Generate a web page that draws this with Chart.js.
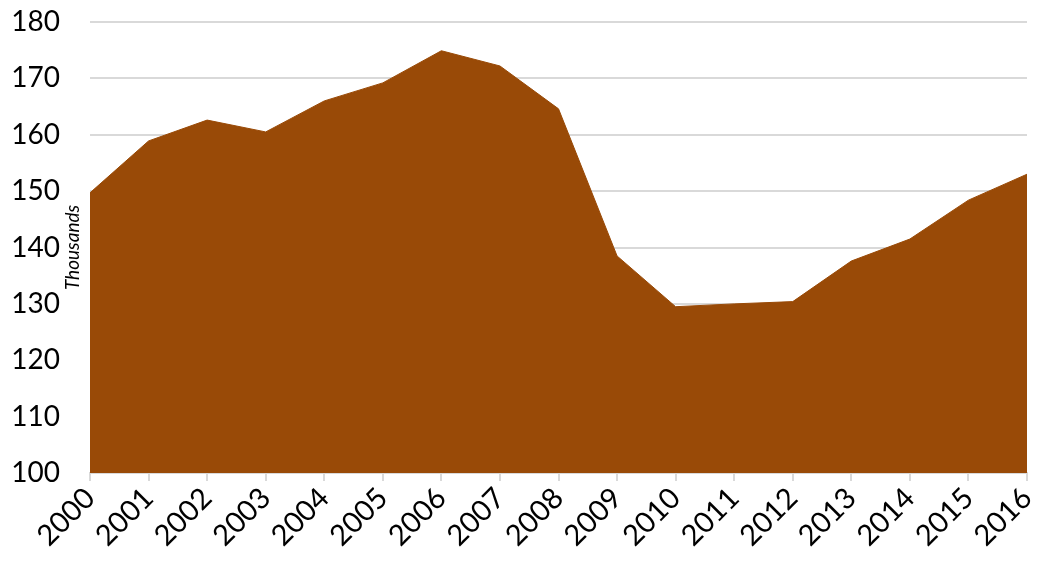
<!DOCTYPE html>
<html>
<head>
<meta charset="utf-8">
<script src="https://cdn.jsdelivr.net/npm/chart.js@4.4.1/dist/chart.umd.min.js"></script>
<style>
  html, body { margin: 0; padding: 0; background: #fff; }
  #wrap { width: 1047px; height: 561px; }
</style>
</head>
<body>
<div id="wrap"><canvas id="chart"></canvas></div>
<script>
const years = ['2000','2001','2002','2003','2004','2005','2006','2007','2008','2009','2010','2011','2012','2013','2014','2015','2016'];
const values = [149.7, 158.9, 162.6, 160.5, 166.0, 169.2, 174.9, 172.2, 164.6, 138.5, 129.5, 130.0, 130.4, 137.6, 141.5, 148.4, 153.0];
const yTicks = [100, 110, 120, 130, 140, 150, 160, 170, 180];
const unitLabel = 'Thousands';

const brown = 'rgb(153, 74, 7)';

// draws the italic unit label between the tick labels and the plot
const unitPlugin = {
    id: 'unitLabel',
    afterDraw(c) {
        const ctx = c.ctx;
        const area = c.chartArea;
        ctx.save();
        ctx.translate(area.left - 17, (area.top + area.bottom) / 2);
        ctx.rotate(-Math.PI / 2);
        ctx.font = 'italic 19px Lato';
        ctx.fillStyle = '#000';
        ctx.textAlign = 'center';
        ctx.textBaseline = 'middle';
        ctx.fillText(unitLabel, 0, 0);
        ctx.restore();
    }
};

const chart = new Chart(document.getElementById('chart').getContext('2d'), {
    type: 'line',
    data: {
        labels: years,
        datasets: [
            {
                data: values,
                fill: 'start',
                backgroundColor: brown,
                borderColor: brown,
                borderWidth: 1,
                pointRadius: 0,
                tension: 0
            }
        ]
    },
    options: {
        responsive: true,
        maintainAspectRatio: false,
        animation: false,
        layout: { padding: { top: 22, right: 20, left: 0, bottom: 0 } },
        plugins: {
            legend: { display: false },
            tooltip: { enabled: false }
        },
        scales: {
            x: {
                offset: false,
                afterFit(axis) {
                    axis.height = 88;
                    axis.paddingLeft = 0;
                    axis.paddingRight = 0;
                },
                grid: {
                    display: true,
                    drawOnChartArea: false,
                    drawTicks: true,
                    tickLength: 8,
                    color: '#d9d9d9',
                    lineWidth: 2
                },
                border: { color: '#d9d9d9', width: 2 },
                ticks: {
                    font: { family: 'Lato', size: 29 },
                    color: '#000',
                    maxRotation: 45,
                    minRotation: 45,
                    autoSkip: false,
                    padding: 0
                }
            },
            y: {
                min: 100,
                max: 180,
                afterFit(axis) {
                    axis.width = 90;
                    axis.paddingTop = 0;
                    axis.paddingBottom = 0;
                },
                afterBuildTicks(axis) {
                    axis.ticks = yTicks.map(v => ({ value: v }));
                },
                grid: {
                    color: '#d9d9d9',
                    lineWidth: 2,
                    drawTicks: false
                },
                border: { display: false },
                ticks: {
                    font: { family: 'Lato', size: 28 },
                    color: '#000',
                    padding: 30
                }
            }
        }
    },
    plugins: [unitPlugin]
});
</script>
</body>
</html>
